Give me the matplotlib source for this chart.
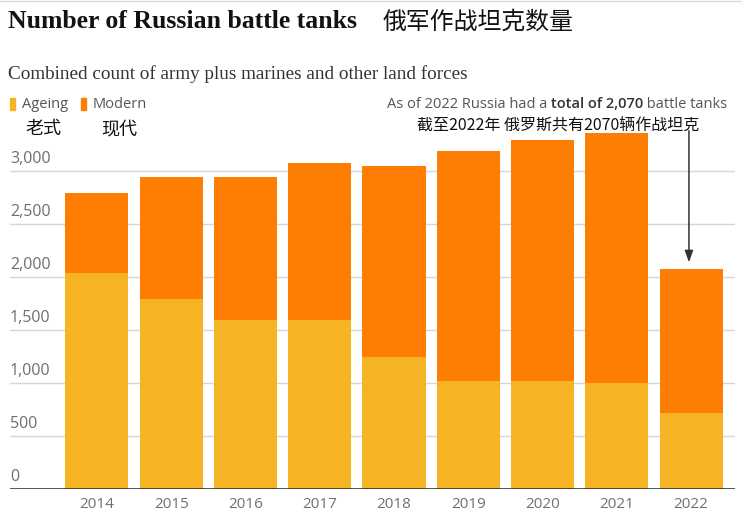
import numpy as np
import matplotlib
matplotlib.use("Agg")
import matplotlib.pyplot as plt
import matplotlib.transforms as mtransforms

# data
years = ["2014", "2015", "2016", "2017", "2018", "2019", "2020", "2021", "2022"]
ageing = [2040, 1790, 1590, 1590, 1240, 1020, 1020, 1000, 720]
modern = [750, 1150, 1350, 1485, 1807, 2168, 2269, 2352, 1350]
yticks = [0, 500, 1000, 1500, 2000, 2500, 3000]
total_2022 = 2070

ageing_col = "#f6b324"
modern_col = "#fe7e03"
cjk = ["Noto Sans CJK SC", "DejaVu Sans"]
sans = ["Open Sans", "DejaVu Sans"]

W, H = 742, 519
fig = plt.figure(figsize=(W / 100, H / 100), dpi=100)
ax = fig.add_axes([10 / W, 30 / H, 725 / W, (489 - 125) / H])

x = np.arange(len(years))
ax.bar(x, ageing, width=0.85, color=ageing_col, zorder=2)
ax.bar(x, modern, width=0.85, bottom=ageing, color=modern_col, zorder=2)

ax.set_xlim(-1.17, 8.59)
ax.set_ylim(0, 3431)
for s in ax.spines.values():
    s.set_visible(False)

# gridlines + labels sitting above them
lab_tr = mtransforms.offset_copy(ax.get_yaxis_transform(), fig=fig, x=0, y=4, units="dots")
for v in yticks:
    if v > 0:
        ax.axhline(v, color="#d6d6d6", lw=1, zorder=1)
    ax.text(0, v, f"{v:,}", transform=lab_tr, ha="left", va="bottom",
            fontsize=11.5, color="#6e6e6e", family=sans)
ax.axhline(0, color="#222222", lw=1.8, zorder=3)
ax.set_yticks([])
ax.set_xticks(x)
ax.set_xticklabels(years, fontsize=11, color="#707070", family=sans)
ax.tick_params(axis="x", length=0, pad=6)

# arrow to 2022 bar
ax.annotate("", xy=(8 - 0.03, total_2022 + 40), xycoords="data",
            xytext=(8 - 0.03, 1 - 128 / H), textcoords=("data", "figure fraction"),
            arrowprops=dict(arrowstyle="-|>,head_length=0.7,head_width=0.25",
                            color="#333333", lw=1.1),
            annotation_clip=False)

# titles
fig.text(8 / W, 1 - 22 / H, "Number of Russian battle tanks", fontsize=18.5,
         fontweight="bold", family="Liberation Serif", color="#121212", va="center")
fig.text(383 / W, 1 - 22 / H, "俄军作战坦克数量", fontsize=17.2, family=cjk,
         color="#121212", va="center")
fig.text(8 / W, 1 - 74 / H, "Combined count of army plus marines and other land forces",
         fontsize=13.8, family="Liberation Serif", color="#333333", va="center")

# legend
fig.patches.append(plt.Rectangle((10 / W, 1 - 110 / H), 5 / W, 12 / H,
                                 transform=fig.transFigure, color=ageing_col))
fig.text(22 / W, 1 - 104 / H, "Ageing", fontsize=10.5, family=sans, color="#555555", va="center")
fig.patches.append(plt.Rectangle((81 / W, 1 - 110 / H), 5 / W, 12 / H,
                                 transform=fig.transFigure, color=modern_col))
fig.text(93 / W, 1 - 104 / H, "Modern", fontsize=10.5, family=sans, color="#555555", va="center")
fig.text(25 / W, 1 - 129 / H, "老式", fontsize=13, family=cjk, color="#111111", va="center")
fig.text(101 / W, 1 - 129 / H, "现代", fontsize=13, family=cjk, color="#111111", va="center")

# annotation text, right side
t1 = fig.text(387 / W, 1 - 104 / H, "As of 2022 Russia had a ", fontsize=10.5,
              family=sans, color="#555555", va="center")
t2 = ax.annotate(f"total of {total_2022:,}", xy=(1, 0), xycoords=t1, va="bottom",
                 fontsize=10.5, fontweight="semibold", family=sans, color="#333333",
                 annotation_clip=False)
ax.annotate(" battle tanks", xy=(1, 0), xycoords=t2, va="bottom",
            fontsize=10.5, family=sans, color="#555555", annotation_clip=False)
fig.text(558 / W, 1 - 125 / H, "截至2022年 俄罗斯共有2070辆作战坦克", fontsize=11.5,
         family=cjk, color="#111111", va="center", ha="center")

# thin rule at top
fig.add_artist(plt.Line2D([0, 1], [1 - 1 / H, 1 - 1 / H], transform=fig.transFigure,
                          color="#dcdcdc", lw=1))

fig.savefig("out.png", dpi=100)
